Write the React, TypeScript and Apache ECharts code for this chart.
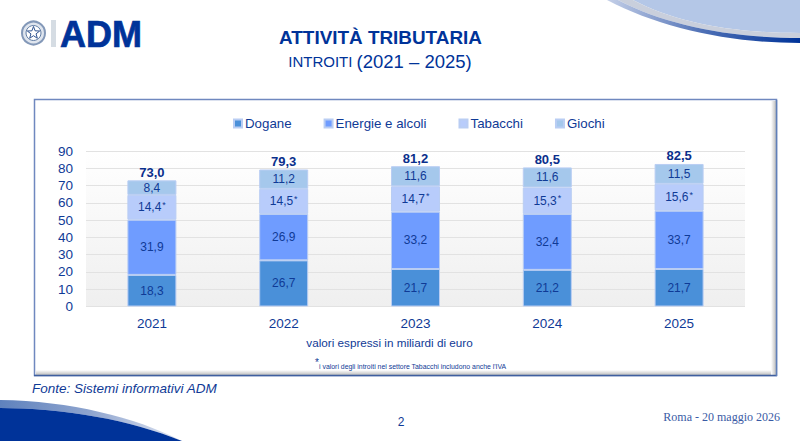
import React, { useEffect, useRef } from "react";
import * as echarts from "echarts";

const years = ["2021", "2022", "2023", "2024", "2025"];
const dogane = [18.3, 26.7, 21.7, 21.2, 21.7];
const energie = [31.9, 26.9, 33.2, 32.4, 33.7];
const tabacchi = [14.4, 14.5, 14.7, 15.3, 15.6];
const giochi = [8.4, 11.2, 11.6, 11.6, 11.5];
const totali = [73.0, 79.3, 81.2, 80.5, 82.5];

const FONT = '"Liberation Sans", Arial, sans-serif';
const INK = "#0f3a96";
const NAVY = "#003399";

echarts.graphic.registerShape("swooshTopFill", echarts.graphic.extendPath("M633 0 C675 22 730 33 800 33 L800 0 Z", {}));
echarts.graphic.registerShape("swooshTopGrey", echarts.graphic.extendPath("M618 0 C665 25 730 38 800 38 L800 33 C730 33 675 22 633 0 Z", {}));
echarts.graphic.registerShape("swooshTopDark", echarts.graphic.extendPath("M607 0 C660 28 730 43 800 43 L800 38 C730 38 665 25 618 0 Z", {}));
echarts.graphic.registerShape("swooshBottomFill", echarts.graphic.extendPath("M0 408 C65 408 130 420 182 441 L0 441 Z", {}));
echarts.graphic.registerShape("swooshBottomBand", echarts.graphic.extendPath("M0 400 C70 401 135 417 182 441 C130 420 65 408 0 408 Z", {}));

const fmt = (v: number) => v.toFixed(1).replace(".", ",");
const grad = (x2: number, y2: number, a: string, b: string, x = 0, y = 0) =>
  new echarts.graphic.LinearGradient(x, y, x2, y2, [
    { offset: 0, color: a },
    { offset: 1, color: b },
  ]);

const barSeries = (name: string, data: number[], color: string, star = false) => ({
  name,
  type: "bar",
  stack: "t",
  barWidth: 49,
  data,
  itemStyle: { color, borderColor: "#b9cdf3", borderWidth: 1 },
  label: {
    show: true,
    position: "inside",
    formatter: (p: any) => (star ? `{v|${fmt(p.value)}}{s|*}` : fmt(p.value)),
    color: INK,
    fontFamily: FONT,
    fontSize: 12,
    rich: star
      ? {
          v: { color: INK, fontFamily: FONT, fontSize: 12, lineHeight: 14 },
          s: { color: INK, fontFamily: FONT, fontSize: 9, verticalAlign: "top", lineHeight: 9, padding: [0, 0, 14, 1] },
        }
      : undefined,
  },
});

const App = () => {
  const ref = useRef<HTMLDivElement>(null);
  useEffect(() => {
    const chart = echarts.init(ref.current!, null, { renderer: "svg" });
    const text = (x: number, y: number, t: string, size: number, extra: any = {}, align = "left") => ({
      type: "text",
      x,
      y,
      z: 5,
      style: {
        text: t,
        fontFamily: FONT,
        fontSize: size,
        fill: INK,
        textAlign: align,
        textVerticalAlign: "middle",
        ...extra,
      },
    });
    const starPts: number[][] = [];
    for (let i = 0; i < 10; i++) {
      const r = i % 2 === 0 ? 6.5 : 2.7;
      const a = -Math.PI / 2 + (i * Math.PI) / 5;
      starPts.push([33.5 + r * Math.cos(a), 32.5 + r * Math.sin(a)]);
    }
    chart.setOption({
      animation: false,
      backgroundColor: "#ffffff",
      textStyle: { fontFamily: FONT },
      grid: {
        left: 86,
        right: 55,
        top: 151,
        bottom: 441 - 306.5,
        show: true,
        borderWidth: 0,
        backgroundColor: grad(0, 1, "#ffffff", "#efefef"),
      },
      legend: {
        top: 112,
        left: 228,
        itemWidth: 8,
        itemHeight: 8,
        itemGap: 32,
        icon: "rect",
        data: ["Dogane", "Energie e alcoli", "Tabacchi", "Giochi"],
        textStyle: { color: INK, fontFamily: FONT, fontSize: 13.3, padding: [1, 0, 0, -2] },
      },
      xAxis: {
        type: "category",
        data: years,
        axisLine: { show: false },
        axisTick: { show: false },
        axisLabel: { color: INK, fontFamily: FONT, fontSize: 13.5, margin: 10 },
      },
      yAxis: {
        type: "value",
        min: 0,
        max: 90,
        interval: 10,
        axisLine: { show: false },
        axisTick: { show: false },
        axisLabel: { color: INK, fontFamily: FONT, fontSize: 13.5, margin: 13 },
        splitLine: { lineStyle: { color: "#e2e2e2", width: 1 } },
      },
      series: [
        barSeries("Dogane", dogane, "#4a90d9"),
        barSeries("Energie e alcoli", energie, "#6f9cff"),
        barSeries("Tabacchi", tabacchi, "#b8ccfb", true),
        barSeries("Giochi", giochi, "#a5c8ec"),
        {
          name: "Totale",
          type: "line",
          data: totali,
          symbol: "circle",
          symbolSize: 1,
          showSymbol: true,
          itemStyle: { color: "rgba(0,0,0,0)" },
          lineStyle: { opacity: 0 },
          z: 10,
          label: {
            show: true,
            position: "top",
            distance: 1,
            formatter: (p: any) => fmt(p.value),
            color: "#0a2f8c",
            fontFamily: FONT,
            fontSize: 13,
            fontWeight: "bold",
          },
        },
      ],
      graphic: [
        // cornice
        { type: "rect", z: -20, shape: { x: 34.5, y: 99.5, width: 742, height: 276 }, style: { fill: "#ffffff", stroke: "#6f88bf", lineWidth: 1.5 } },
        { type: "rect", z: -19, shape: { x: 36, y: 370, width: 740, height: 5 }, style: { fill: grad(0, 1, "#ffffff", "#bdbdbd") } },
        { type: "rect", z: -19, shape: { x: 771, y: 101, width: 5, height: 274 }, style: { fill: grad(1, 0, "#ffffff", "#bdbdbd") } },
        { type: "line", z: -18, shape: { x1: 34, y1: 375.5, x2: 777, y2: 375.5 }, style: { stroke: "#3f5f9f", lineWidth: 1.5 } },
        { type: "line", z: -18, shape: { x1: 776.5, y1: 100, x2: 776.5, y2: 376 }, style: { stroke: "#5f7fb8", lineWidth: 1.5 } },
        // onde decorative
        { type: "swooshTopFill", z: -5, style: { fill: "#b4c7e7" } },
        { type: "swooshTopGrey", z: -5, style: { fill: "#c9cfdc" } },
        { type: "swooshTopDark", z: -5, style: { fill: new echarts.graphic.LinearGradient(607, 0, 800, 0, [
          { offset: 0, color: "#c5d0e8" }, { offset: 0.5, color: "#4d6fb5" }, { offset: 1, color: "#003399" },
        ], true) } },
        { type: "swooshBottomBand", z: -5, style: { fill: new echarts.graphic.LinearGradient(0, 0, 182, 0, [
          { offset: 0, color: "#5f82bd" }, { offset: 0.5, color: "#8fa5cf" }, { offset: 1, color: "#dfe5f2" },
        ], true) } },
        { type: "swooshBottomFill", z: -4, style: { fill: NAVY } },
        // logo
        { type: "circle", z: 5, shape: { cx: 33.5, cy: 33, r: 11.5 }, style: { fill: "#dfe5ee", stroke: "#8398b8", lineWidth: 2 } },
        { type: "circle", z: 5, shape: { cx: 33.5, cy: 33, r: 7.5 }, style: { fill: "#ffffff", stroke: "#5f7ba3", lineWidth: 1 } },
        { type: "polygon", z: 6, y: 0.5, shape: { points: starPts }, style: { fill: "#ffffff", stroke: "#2f5390", lineWidth: 1 } },
        { type: "rect", z: 5, shape: { x: 51, y: 20, width: 5, height: 27 }, style: { fill: "#d5dce3" } },
        text(60, 34.5, "ADM", 36, { fontWeight: "bold", fill: NAVY, stroke: NAVY, lineWidth: 0.7 }),
        // titoli
        text(380.5, 37, "ATTIVITÀ TRIBUTARIA", 18.9, { fontWeight: "bold", fill: NAVY }, "center"),
        {
          type: "text",
          x: 380,
          y: 61,
          z: 5,
          style: {
            text: "{a|INTROITI }{b|(2021 – 2025)}",
            textAlign: "center",
            textVerticalAlign: "middle",
            rich: {
              a: { fontFamily: FONT, fontSize: 15, fill: NAVY, color: NAVY },
              b: { fontFamily: FONT, fontSize: 18.5, fill: NAVY, color: NAVY },
            },
          },
        },
        // note
        text(389.5, 342, "valori espressi in miliardi di euro", 11.7, {}, "center"),
        text(315, 362, "*", 10, {}, "left"),
        text(319, 366, "i valori degli introiti nel settore Tabacchi includono anche l'IVA", 6.9, {}, "left"),
        text(32, 388, "Fonte: Sistemi informativi ADM", 13.5, { fontStyle: "italic" }),
        text(401, 422, "2", 12, {}, "center"),
        text(780, 417, "Roma - 20 maggio 2026", 12, { fontFamily: '"Liberation Serif", serif', fill: "#3a5ba5" }, "right"),
      ],
    });
    return () => chart.dispose();
  }, []);
  return <div ref={ref} style={{ position: "fixed", left: 0, top: 0, width: 800, height: 441 }} />;
};

export default App;
